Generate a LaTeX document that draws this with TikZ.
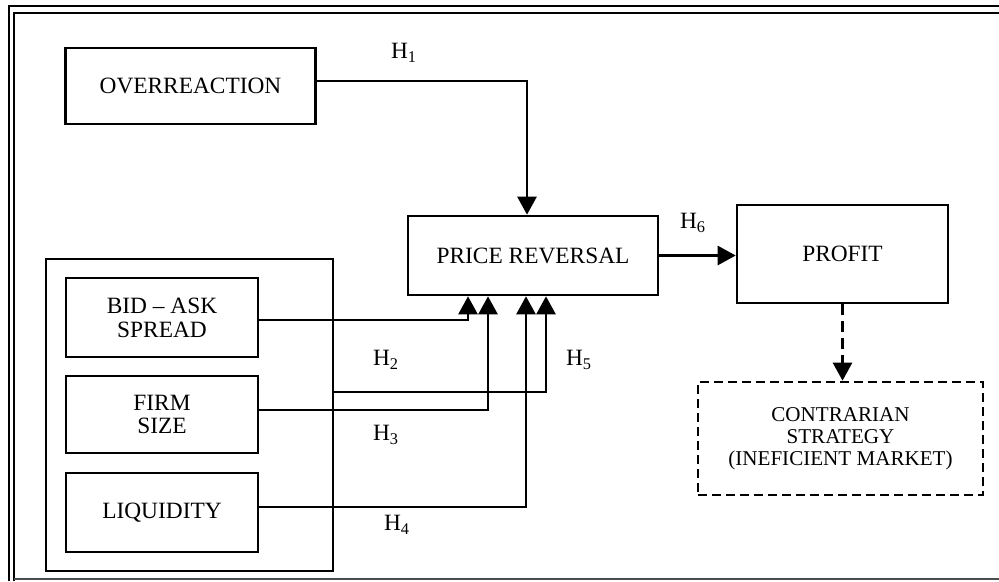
\documentclass[tikz,border=0pt]{standalone}
\usepackage{fontspec}
\setmainfont{Liberation Serif}
\usepackage{tikz}
\usetikzlibrary{arrows.meta}

\tikzset{
  varbox/.style={draw, line width=1.5pt, align=center, inner sep=2pt},
  arr/.style={line width=1.5pt, -{Triangle[length=0.36cm,width=0.38cm]}},
  hyp/.style={inner sep=0pt}
}

\begin{document}
\begin{tikzpicture}[x=0.02cm, y=-0.02cm, every node/.style={font=\fontsize{13.3}{13.6}\selectfont}]
  \useasboundingbox (0,0) rectangle (999,581);
  % frame
  \draw[line width=1.6pt] (9,581) -- (9,6) -- (999,6);
  \draw[line width=1pt] (14,581) -- (14,13) -- (999,13);
  \draw[line width=1pt, black!70] (14,579) -- (999,579);
  \node[varbox, minimum width=5cm, minimum height=1.52cm] (over) at (190.5,86) {OVERREACTION};
  \node[varbox, minimum width=5cm, minimum height=1.58cm] (price) at (533,255.5) {PRICE REVERSAL};
  \node[varbox, minimum width=4.22cm, minimum height=1.96cm] (profit) at (842.5,254) {PROFIT};
  \node[varbox, dash pattern=on 0.18cm off 0.1cm, minimum width=5.7cm, minimum height=2.26cm,
        font=\fontsize{12}{12.5}\selectfont] (contra) at (840.5,438.5) {CONTRARIAN\\STRATEGY\\(INEFICIENT MARKET)};
  \node[draw, line width=1.2pt, minimum width=5.74cm, minimum height=6.24cm] (group) at (189.5,415) {};
  \node[varbox, minimum width=3.84cm, minimum height=1.58cm] (bid) at (162,317.5) {BID -- ASK\\SPREAD};
  \node[varbox, minimum width=3.84cm, minimum height=1.54cm] (firm) at (162,414.5) {FIRM\\SIZE};
  \node[varbox, minimum width=3.84cm, minimum height=1.58cm] (liq) at (162,512.5) {LIQUIDITY};
  \draw[arr] ([yshift=0.1cm]over.east) -| ([xshift=-0.12cm]price.north);
  \draw[arr] (price.east) -- (price.east -| profit.west);
  \draw[arr, dash pattern=on 0.22cm off 0.12cm] (profit.south) -- (profit.south |- contra.north);
  \draw[arr] ([yshift=-0.05cm]bid.east) -| ([xshift=-1.3cm]price.south);
  \draw[arr] ([yshift=0.09cm]firm.east) -| ([xshift=-0.9cm]price.south);
  \draw[arr] ([yshift=0.11cm]liq.east) -| ([xshift=-0.14cm]price.south);
  \draw[arr] ([yshift=0.46cm]group.east) -| ([xshift=0.26cm]price.south);
  \node[hyp] (h1) at (404,53) {H\textsubscript{1}};
  \node[hyp] (h2) at (386,360) {H\textsubscript{2}};
  \node[hyp] (h3) at (386,435) {H\textsubscript{3}};
  \node[hyp] (h4) at (397,525) {H\textsubscript{4}};
  \node[hyp] (h5) at (579,360) {H\textsubscript{5}};
  \node[hyp] (h6) at (693,223) {H\textsubscript{6}};
\end{tikzpicture}
\end{document}
